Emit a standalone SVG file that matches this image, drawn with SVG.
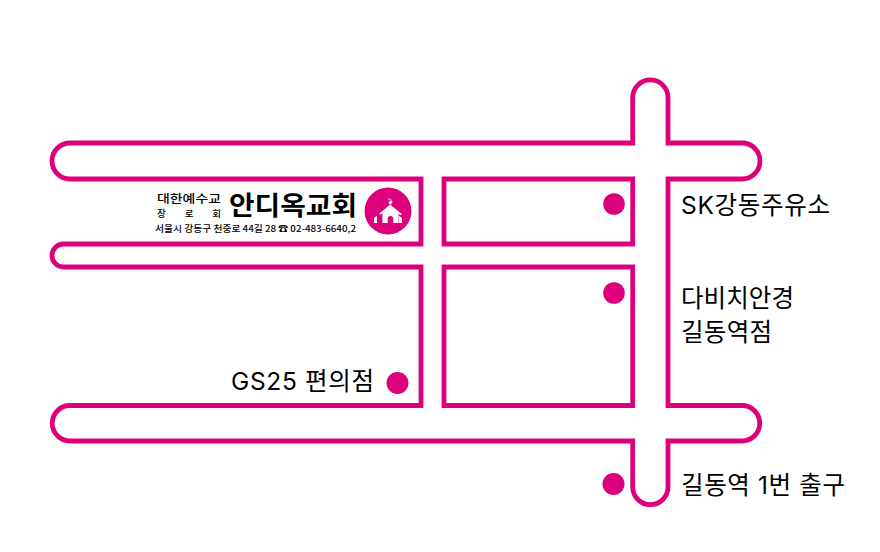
<svg xmlns="http://www.w3.org/2000/svg" width="880" height="552" viewBox="0 0 880 552">
<style>
.road{fill:none;stroke:#dc007c;stroke-width:4.800;stroke-miterlimit:10}
.dot{fill:#dc007c}
text{font-family:"Inter","Noto Sans CJK KR",sans-serif;fill:#000}
.lab{font-size:24.500px;font-weight:400}
.k{font-family:"Noto Sans CJK KR",sans-serif;fill:#000}
</style>
<rect width="880" height="552" fill="#fff"/>
<g id="connectors">
<path class="road" d="M632.700 143H70A18 18 0 0 0 70 179H421V244H63.500A11.500 11.500 0 0 0 63.500 267H421V405.500H70A17.750 17.750 0 0 0 70 441H632.700V487A17.650 17.650 0 0 0 668 487V441H742A17.750 17.750 0 0 0 742 405.500H668V179H742A18 18 0 0 0 742 143H668V97.600A17.650 17.650 0 0 0 632.700 97.600Z"/>
<path class="road" d="M444 179H632.700V244H444Z"/>
<path class="road" d="M444 267H632.700V405.500H444Z"/>
</g>
<g id="logo">
<text class="k" x="157" y="202.500" font-size="11" font-weight="500" textLength="64" lengthAdjust="spacingAndGlyphs">대한예수교</text>
<text class="k" x="157" y="217" font-size="9.500" font-weight="500" textLength="64" lengthAdjust="spacing">장   로   회</text>
<text class="k" x="229" y="215" font-size="26" font-weight="700" textLength="128" lengthAdjust="spacingAndGlyphs">안디옥교회</text>
<text class="k" x="155" y="232" font-size="8.800" font-weight="500" textLength="201" lengthAdjust="spacingAndGlyphs">서울시 강동구 천중로 44길 28 ☎ 02-483-6640,2</text>
<circle class="dot" cx="388" cy="211" r="23.500"/>
<path fill="#fff" d="M387.200 198h1.600v1.800h2v1.500h-2v2.300l12.900 10.300-1.100 1.400-2-1.500V223h-5.300v-4.300a2.800 2.800 0 0 0-5.600 0V223h-5.300v-9.700l-2 1.500-1.100-1.400 12.900-10.300v-2.300h-2v-1.500h2z"/>
<path fill="#fff" d="M374 223v-5l3-2.300V223zM402 223v-5l-3-2.300V223z"/>
</g>
<g id="sk"><circle class="dot" cx="614" cy="204" r="10.800"/><text class="lab" x="681" y="214" textLength="149">SK강동주유소</text></g>
<g id="davich"><circle class="dot" cx="614" cy="293" r="10.800"/><text class="lab" x="681" y="307" textLength="113">다비치안경</text><text class="lab" x="681" y="341" textLength="91">길동역점</text></g>
<g id="gs25"><circle class="dot" cx="397.500" cy="383" r="11"/><text class="lab" x="231" y="390" textLength="143">GS25 편의점</text></g>
<g id="exit"><circle class="dot" cx="613.500" cy="484" r="11"/><text class="lab" x="681" y="494" textLength="164">길동역 1번 출구</text></g>
</svg>
